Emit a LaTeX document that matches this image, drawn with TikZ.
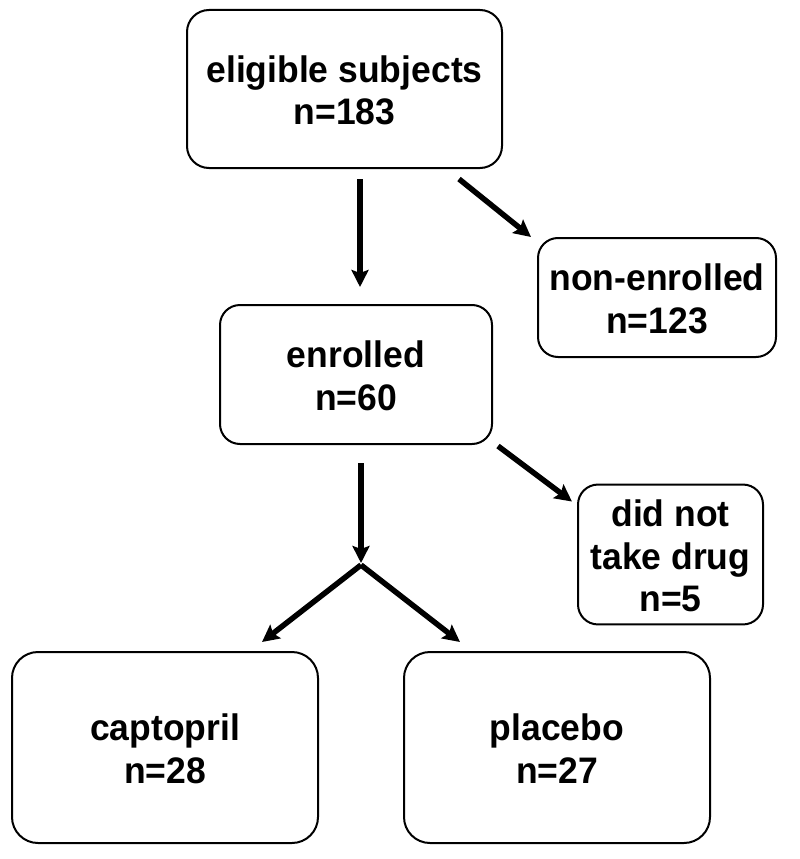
\documentclass[tikz,border=0pt]{standalone}
\usepackage{fontspec}
\setmainfont{Liberation Sans}
\usepackage{graphicx}
\usetikzlibrary{arrows.meta,calc}
\newcommand{\lbl}[1]{\raisebox{0pt}[\dimexpr\height+12pt\relax][\depth]{\scalebox{1}[1.04]{\begin{tabular}{@{}c@{}}#1\end{tabular}}}}
\tikzset{
  box/.style={draw=black, line width=2pt, rounded corners=22pt, fill=white,
    font=\bfseries\fontsize{35.5}{41}\selectfont, inner sep=0pt},
  arr/.style={line width=5.5pt, -{Stealth[length=17pt,width=17pt,inset=3pt]}},
}
\begin{document}
\begin{tikzpicture}[x=1pt,y=-1pt]
\useasboundingbox (0,0) rectangle (800,859);
\node[box, minimum width=315pt, minimum height=158pt] (elig) at (344.5,89) {\lbl{eligible subjects\\n=183}};
\node[box, minimum width=238pt, minimum height=119pt, rounded corners=20pt] (non) at (657,297.5) {\lbl{non-enrolled\\n=123}};
\node[box, minimum width=272pt, minimum height=139pt, rounded corners=20pt] (enr) at (356,374.5) {\lbl{enrolled\\n=60}};
\node[box, minimum width=185pt, minimum height=131pt, rounded corners=20pt] (dnt) at (670.5,554.5) {\lbl{did not\\take drug\\n=5}};
\node[box, minimum width=306pt, minimum height=191pt, rounded corners=26pt] (cap) at (165,747.5) {\lbl{captopril\\n=28}};
\node[box, minimum width=306pt, minimum height=191pt, rounded corners=26pt] (pla) at (557,747.5) {\lbl{placebo\\n=27}};
\coordinate (split) at (361,565);
\draw[arr] ($(elig.south)+(15.5,10)$) -- ($(enr.north)+(4,-17)$);
\draw[arr] ($(elig.south east)+(-44,10)$) -- ($(non.north west)+(-6,0)$);
\draw[arr] ($(enr.south)+(5,18)$) -- ($(split)+(0,-2)$);
\draw[arr] ($(enr.south east)+(5,1)$) -- ($(dnt.north west)+(-5,18)$);
\draw[arr] (split) -- ($(cap.north)+(97,-9)$);
\draw[arr] (split) -- ($(pla.north)+(-97,-9)$);
\end{tikzpicture}
\end{document}
